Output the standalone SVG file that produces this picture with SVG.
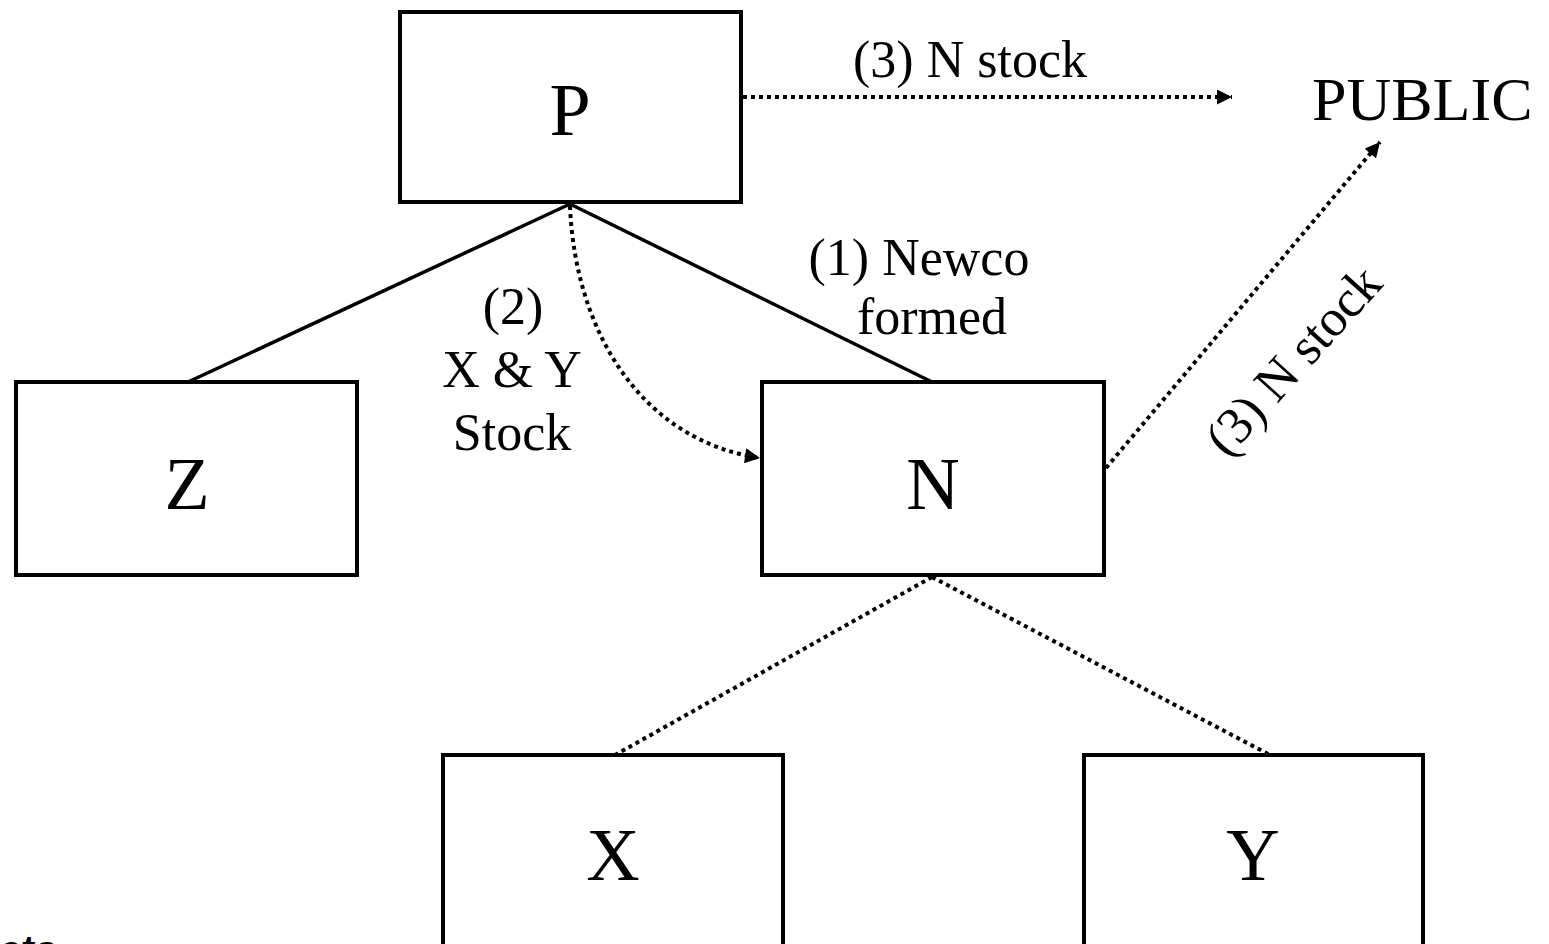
<svg xmlns="http://www.w3.org/2000/svg" width="1549" height="944" viewBox="0 0 1549 944">
<style>
.box{fill:#fff;stroke:#000;stroke-width:4}
.big{font-family:"Liberation Serif","Times New Roman",serif;font-size:74px;text-anchor:middle;fill:#000}
.lbl{font-family:"Liberation Serif","Times New Roman",serif;font-size:52px;text-anchor:middle;fill:#000}
.solid{fill:none;stroke:#000;stroke-width:3.5}
.dot{fill:none;stroke:#000;stroke-width:4;stroke-dasharray:4 4}
</style>
<defs>
<marker id="ah" viewBox="0 0 10 10" refX="10" refY="5" markerWidth="16" markerHeight="15" markerUnits="userSpaceOnUse" orient="auto">
<path d="M0,0 L10,5 L0,10 z" fill="#000"/>
</marker>
</defs>
<rect width="1549" height="944" fill="#fff"/>
<g id="connectors">
<line class="solid" x1="570" y1="204" x2="188" y2="382"/>
<line class="solid" x1="570" y1="204" x2="932" y2="382"/>
<line class="dot" x1="932" y1="577" x2="615" y2="755"/>
<line class="dot" x1="932" y1="577" x2="1270" y2="755"/>
<path class="dot" d="M570,206 C575,330 640,440 760,458" marker-end="url(#ah)"/>
<line class="dot" x1="743" y1="97" x2="1232" y2="97" marker-end="url(#ah)"/>
<line class="dot" x1="1106" y1="468" x2="1380" y2="142" marker-end="url(#ah)"/>
<text class="lbl" x="970" y="77">(3) N stock</text>
<text class="lbl" transform="translate(1306,372) rotate(-48)" x="0" y="0">(3) N stock</text>
<text class="lbl" x="919" y="275">(1) Newco</text>
<text class="lbl" x="932" y="334">formed</text>
<text class="lbl" x="513" y="324">(2)</text>
<text class="lbl" x="512" y="387">X &amp; Y</text>
<text class="lbl" x="512" y="450">Stock</text>
</g>
<g id="node-P">
<rect class="box" x="400" y="12" width="341" height="190"/>
<text class="big" x="570" y="135">P</text>
</g>
<g id="node-PUBLIC">
<text x="1312" y="120" font-family="Liberation Serif, Times New Roman, serif" font-size="62" fill="#000">PUBLIC</text>
</g>
<g id="node-Z">
<rect class="box" x="16" y="382" width="341" height="193"/>
<text class="big" x="187" y="509">Z</text>
</g>
<g id="node-N">
<rect class="box" x="762" y="382" width="342" height="193"/>
<text class="big" x="933" y="509">N</text>
</g>
<g id="node-X">
<rect class="box" x="443" y="755" width="340" height="220"/>
<text class="big" x="613" y="880">X</text>
</g>
<g id="node-Y">
<rect class="box" x="1084" y="755" width="339" height="220"/>
<text class="big" x="1253" y="880">Y</text>
</g>
<text x="0" y="964" font-family="Liberation Sans, Arial, sans-serif" font-size="40" font-weight="bold" fill="#000">ets</text>
</svg>
